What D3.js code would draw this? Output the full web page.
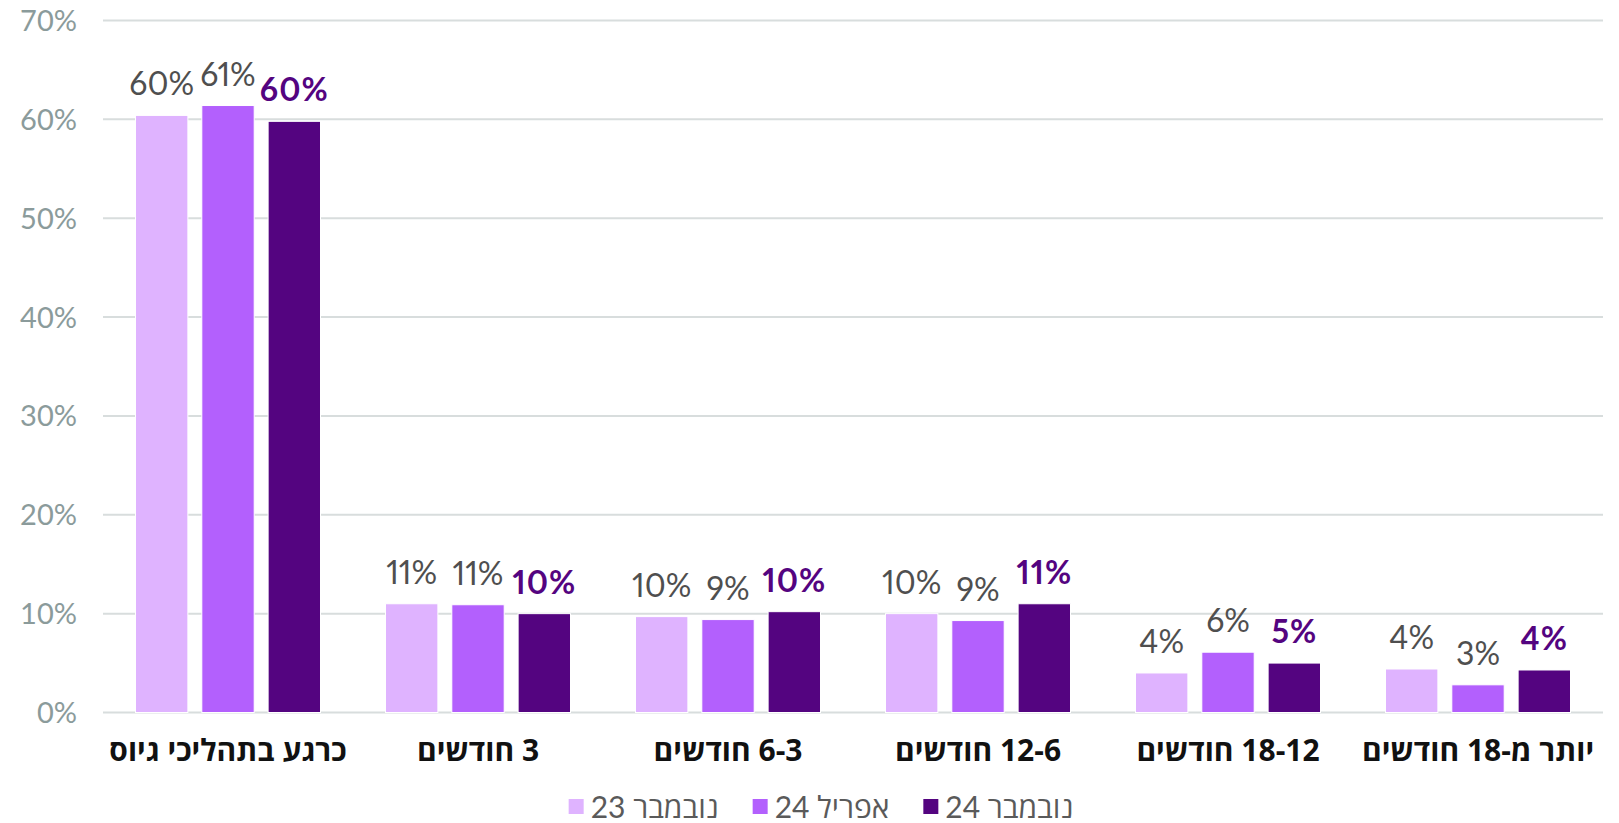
<!DOCTYPE html>
<html>
<head>
<meta charset="utf-8">
<script src="https://cdn.jsdelivr.net/npm/d3@7"></script>
<style>
  body { margin: 0; background: #fff; }
  svg { display: block; }
  .tick-label { font-family: Lato, "Open Sans", sans-serif; fill: #8b9b9b; }
  .value-label { font-family: Lato, "Open Sans", sans-serif; font-variant-numeric: proportional-nums; }
  .cat-label { font-family: "Open Sans", "Liberation Sans", sans-serif; font-weight: 700; fill: #111; }
  .legend-label { font-family: Lato, "Open Sans", "Liberation Sans", sans-serif; fill: #5a5a5a; }
</style>
</head>
<body>
<svg id="chart" width="1619" height="823"></svg>
<script>
// categories, left to right
const categories = ["כרגע בתהליכי גיוס", "3 חודשים", "6-3 חודשים", "12-6 חודשים", "18-12 חודשים", "יותר מ-18 חודשים"];
const seriesNames = ["נובמבר 23", "אפריל 24", "נובמבר 24"];
const seriesColors = ["#dfb3ff", "#b360fd", "#540480"];

// values (percent)
const nov23 = [60.4, 11.0, 9.7, 10.0, 4.0, 4.4];
const apr24 = [61.4, 10.9, 9.4, 9.3, 6.1, 2.8];
const nov24 = [59.8, 10.0, 10.2, 11.0, 5.0, 4.3];
// rounded labels shown above the bars
const nov23Labels = ["60%", "11%", "10%", "10%", "4%", "4%"];
const apr24Labels = ["61%", "11%", "9%", "9%", "6%", "3%"];
const nov24Labels = ["60%", "10%", "10%", "11%", "5%", "4%"];

const yTicks = [0, 10, 20, 30, 40, 50, 60, 70];

const series = [
  { name: seriesNames[0], values: nov23, labels: nov23Labels, color: seriesColors[0] },
  { name: seriesNames[1], values: apr24, labels: apr24Labels, color: seriesColors[1] },
  { name: seriesNames[2], values: nov24, labels: nov24Labels, color: seriesColors[2] }
];

const svg = d3.select("#chart");
const margin = { left: 103, right: 16, top: 20, bottom: 110 };
const width = 1619, height = 823;

const y = d3.scaleLinear().domain([0, 70]).range([712.5, 20.5]);
const x0 = d3.scaleBand().domain(categories).range([margin.left, width - margin.right]).paddingInner(0.26).paddingOuter(0.13);
const x1 = d3.scaleBand().domain(d3.range(series.length)).range([0, x0.bandwidth()]).paddingInner(0.21);

// gridlines
svg.append("g")
  .selectAll("line")
  .data(yTicks)
  .join("line")
    .attr("x1", margin.left)
    .attr("x2", width - margin.right)
    .attr("y1", d => y(d))
    .attr("y2", d => y(d))
    .attr("stroke", "#d8dddd")
    .attr("stroke-width", 2);

// y labels
svg.append("g")
  .selectAll("text")
  .data(yTicks)
  .join("text")
    .attr("class", "tick-label")
    .attr("x", 77)
    .attr("y", d => y(d))
    .attr("dy", "0.36em")
    .attr("text-anchor", "end")
    .attr("font-size", 29)
    .text(d => d + "%");

// bars
const groups = svg.append("g")
  .selectAll("g")
  .data(categories)
  .join("g")
    .attr("transform", d => `translate(${x0(d)},0)`);

groups.selectAll("rect")
  .data((d, i) => series.map((s, k) => ({ k, v: s.values[i], color: s.color })))
  .join("rect")
    .attr("x", d => x1(d.k))
    .attr("width", x1.bandwidth())
    .attr("y", d => y(d.v))
    .attr("height", d => y(0) - y(d.v))
    .attr("fill", d => d.color)
    .attr("stroke", "#fff")
    .attr("stroke-width", 1);

// value labels
groups.selectAll("text")
  .data((d, i) => series.map((s, k) => ({ k, v: s.values[i], label: s.labels[i] })))
  .join("text")
    .attr("class", "value-label")
    .attr("x", d => x1(d.k) + x1.bandwidth() / 2)
    .attr("y", d => y(d.v) - 20)
    .attr("text-anchor", "middle")
    .attr("font-size", 32)
    .attr("font-weight", d => d.k === 2 ? 700 : 400)
    .attr("letter-spacing", d => d.k === 2 ? 1 : 0)
    .attr("fill", d => d.k === 2 ? "#540480" : "#4f4f4f")
    .text(d => d.label);

// category labels, right-to-left so the number sits on the right
svg.append("g")
  .selectAll("text")
  .data(categories)
  .join("text")
    .attr("class", "cat-label")
    .attr("direction", "rtl")
    .attr("x", d => x0(d) + x0.bandwidth() / 2)
    .attr("y", 761)
    .attr("text-anchor", "middle")
    .attr("font-size", 30)
    .text(d => d);

// legend
const legend = svg.append("g");
const items = legend.selectAll("g")
  .data(series)
  .join("g");
items.append("rect")
  .attr("width", 15)
  .attr("height", 15)
  .attr("y", 799)
  .attr("fill", d => d.color);
items.append("text")
  .attr("class", "legend-label")
  .attr("y", 807)
  .attr("dy", "0.36em")
  .attr("font-size", 30)
  .text(d => d.name);

let cursor = 0;
items.each(function() {
  const g = d3.select(this);
  const w = g.select("text").node().getComputedTextLength();
  g.select("rect").attr("x", cursor);
  g.select("text").attr("x", cursor + 22);
  cursor += 22 + w + 34;
});
const total = cursor - 34;
legend.attr("transform", `translate(${821 - total / 2},0)`);
</script>
</body>
</html>
